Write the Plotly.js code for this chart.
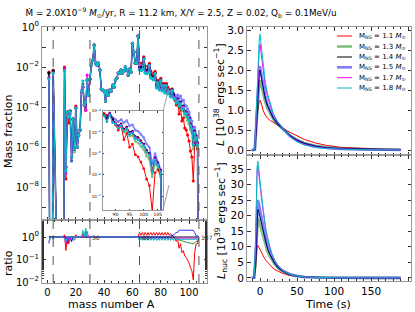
<!DOCTYPE html>
<html><head><meta charset="utf-8">
<script src="https://cdn.plot.ly/plotly-3.0.1.min.js"></script>
<style>html,body{margin:0;padding:0;background:#fff}#chart{width:415px;height:312px}</style>
</head><body><div id="chart"></div>
<script>
// ---------- DATA ----------
const massNumber = [1,2,3,4,5,6,7,8,9,10,11,12,13,14,15,16,17,18,19,20,21,22,23,24,25,26,27,28,29,30,
31,32,33,34,35,36,37,38,39,40,41,42,43,44,45,46,47,48,49,50,51,52,53,54,55,56,57,58,59,60,
61,62,63,64,65,66,67,68,69,70,71,72,73,74,75,76,77,78,79,80,81,82,83,84,85,86,87,88,89,90,
91,92,93,94,95,96,97,98,99,100,101,102,103,104,105,106,107];

// log10(mass fraction); -20 = no abundance
const logX_M11 = [-2.25,-20,-20,-2.15,-20,-20,-20,-20,-20,-20,-20,-2.0,-7.6,-4.25,-4.8,-4.2,-6.5,-4.6,-6.1,-3.95,-6.0,-5.4,-5.15,-3.2,-2.85,-3.9,-4.15,-2.65,-3.4,-2.6,
-1.9,-1.65,-0.9,-1.8,-1.9,-1.8,-2.15,-3.1,-3.15,-3.2,-3.7,-3.2,-3.4,-3.15,-3.2,-2.9,-3.0,-2.65,-2.55,-2.3,
-2.3,-2.15,-2.3,-2.2,-2.0,-2.15,-2.4,-2.1,-2.25,-0.82,-1.25,-1.8,-1.8,-0.45,-1.8,-2.07,-1.8,-1.49,-1.95,-2.22,
-1.95,-1.82,-2.2,-2.47,-2.3,-2.22,-2.7,-2.67,-2.8,-2.57,-2.85,-2.82,-2.95,-2.82,-3.0,-3.12,-3.2,-3.1,-3.35,-3.65,
-3.9,-3.7,-4.35,-4.05,-4.7,-4.55,-5.05,-5.15,-5.4,-5.7,-6.2,-6.5,-7.7,-5.9,-5.75,-6.1,-20];
const logX_M13 = [-2.3,-20,-20,-2.2,-20,-20,-20,-20,-20,-20,-20,-2.1,-7.1,-4.25,-4.5,-4.2,-6.7,-4.6,-6.25,-4.05,-6.0,-5.4,-5.15,-3.2,-3.0,-3.75,-4.15,-2.65,-3.4,-2.6,
-1.9,-1.65,-0.9,-1.8,-1.9,-1.8,-2.15,-3.1,-3.15,-3.2,-3.7,-3.2,-3.4,-3.15,-3.2,-2.9,-3.0,-2.65,-2.55,-2.3,
-2.3,-2.15,-2.3,-2.2,-2.0,-2.15,-2.4,-2.1,-2.25,-0.82,-1.25,-1.8,-1.8,-0.45,-2.0,-2.15,-2.0,-1.57,-2.15,-2.3,
-2.15,-1.9,-2.4,-2.55,-2.5,-2.3,-2.9,-2.75,-3.0,-2.65,-3.05,-2.9,-3.15,-2.9,-3.2,-3.2,-3.35,-3.15,-3.43,-3.6,
-3.75,-3.68,-3.98,-3.9,-4.18,-4.15,-4.42,-4.5,-4.67,-4.82,-5.12,-5.28,-6.1,-5.45,-5.65,-6.0,-20];
const logX_M14 = [-2.3,-20,-20,-2.2,-20,-20,-20,-20,-20,-20,-20,-2.1,-7.0,-4.25,-4.5,-4.2,-6.5,-4.6,-6.1,-4.05,-6.0,-5.4,-5.15,-3.2,-3.0,-3.9,-4.15,-2.65,-3.4,-2.6,
-1.9,-1.65,-0.9,-1.8,-1.9,-1.8,-2.15,-3.1,-3.15,-3.2,-3.7,-3.2,-3.4,-3.15,-3.2,-2.9,-3.0,-2.65,-2.55,-2.3,
-2.3,-2.15,-2.3,-2.2,-2.0,-2.15,-2.4,-2.1,-2.25,-0.82,-1.25,-1.8,-1.8,-0.45,-2.0,-2.15,-2.0,-1.57,-2.15,-2.3,
-2.15,-1.9,-2.4,-2.55,-2.5,-2.3,-2.9,-2.75,-3.0,-2.65,-3.05,-2.9,-3.15,-2.9,-3.2,-3.2,-3.35,-3.15,-3.4,-3.55,
-3.7,-3.6,-3.85,-3.75,-4.0,-3.95,-4.2,-4.25,-4.4,-4.55,-4.85,-5.0,-5.8,-5.2,-5.45,-5.8,-20];
const logX_M15 = [-2.5,-20,-20,-2.25,-20,-20,-20,-20,-20,-20,-20,-2.1,-7.0,-4.55,-4.5,-4.2,-6.7,-4.6,-6.1,-4.05,-6.0,-5.4,-5.15,-3.2,-3.0,-3.9,-3.9,-2.65,-3.4,-2.6,
-1.9,-1.65,-0.9,-1.8,-1.9,-1.8,-2.15,-3.1,-3.15,-3.2,-3.7,-3.2,-3.4,-3.15,-3.2,-2.9,-3.0,-2.65,-2.55,-2.3,
-2.3,-2.15,-2.3,-2.2,-2.0,-2.15,-2.4,-2.1,-2.25,-0.82,-1.25,-1.8,-1.8,-0.45,-2.0,-2.15,-2.0,-1.57,-2.15,-2.3,
-2.15,-1.9,-2.4,-2.55,-2.5,-2.3,-2.9,-2.75,-3.0,-2.65,-3.05,-2.9,-3.15,-2.9,-3.2,-3.2,-3.3,-3.1,-3.3,-3.4,
-3.5,-3.4,-3.55,-3.45,-3.7,-3.65,-3.9,-3.95,-4.1,-4.25,-4.55,-4.7,-5.5,-5.0,-5.4,-5.75,-20];
const logX_M17 = [-2.55,-20,-20,-2.3,-20,-20,-20,-20,-20,-20,-20,-2.1,-7.3,-4.25,-4.5,-4.35,-6.5,-4.6,-6.1,-4.05,-6.0,-5.4,-5.15,-3.2,-3.0,-3.9,-4.15,-2.4,-3.4,-2.6,
-1.9,-1.65,-0.9,-1.8,-1.9,-1.8,-2.15,-3.1,-3.15,-3.2,-3.7,-3.2,-3.4,-3.15,-3.2,-2.9,-3.0,-2.65,-2.55,-2.3,
-2.3,-2.15,-2.3,-2.2,-2.0,-2.15,-2.4,-2.1,-2.25,-0.82,-1.25,-1.8,-1.8,-0.45,-2.12,-2.17,-2.12,-1.59,-2.27,-2.32,
-2.27,-1.92,-2.52,-2.57,-2.62,-2.32,-3.02,-2.77,-3.12,-2.67,-3.17,-2.92,-3.27,-2.92,-3.32,-3.22,-3.47,-3.17,-3.52,-3.57,
-3.75,-3.65,-3.9,-3.8,-4.05,-4.0,-4.25,-4.3,-4.45,-4.6,-4.9,-5.05,-5.85,-5.25,-5.5,-5.85,-20];
const logX_M18 = [-2.6,-20,-20,-2.3,-20,-20,-20,-20,-20,-20,-20,-2.2,-7.2,-4.25,-4.5,-4.2,-6.5,-4.6,-6.1,-4.05,-6.0,-5.4,-5.15,-3.2,-2.7,-3.9,-3.75,-2.65,-3.4,-2.6,
-1.9,-1.65,-0.9,-1.8,-1.9,-1.8,-2.15,-3.1,-3.15,-3.2,-3.7,-3.2,-3.4,-3.15,-3.2,-2.9,-3.0,-2.65,-2.55,-2.3,
-2.3,-2.15,-2.3,-2.2,-2.0,-2.15,-2.4,-2.1,-2.25,-0.82,-1.25,-1.8,-1.8,-0.45,-2.15,-2.18,-2.15,-1.6,-2.3,-2.33,
-2.3,-1.93,-2.55,-2.58,-2.65,-2.33,-3.05,-2.78,-3.15,-2.68,-3.2,-2.93,-3.3,-2.93,-3.35,-3.23,-3.5,-3.18,-3.55,-3.6,
-3.8,-3.7,-3.95,-3.85,-4.1,-4.05,-4.3,-4.35,-4.5,-4.65,-4.95,-5.1,-5.9,-5.3,-5.55,-5.9,-20];

const timeL = [-11,-7,-5,-3,-1,0,2,4,7,10,14,18,23,30,40,50,60,75,90,110,130,150,170,190];
const L_M11 = [0,0.02,0.5,1.0,1.22,1.25,1.15,1.0,0.88,0.8,0.74,0.69,0.64,0.56,0.45,0.35,0.27,0.18,0.12,0.07,0.05,0.035,0.025,0.02];
const L_M13 = [0,0.02,0.6,1.3,1.7,1.75,1.6,1.4,1.2,1.05,0.9,0.77,0.66,0.55,0.38,0.26,0.18,0.11,0.07,0.04,0.025,0.018,0.014,0.012];
const L_M14 = [0,0.02,0.7,1.5,1.95,2.0,1.8,1.55,1.3,1.12,0.95,0.8,0.68,0.55,0.37,0.25,0.17,0.1,0.06,0.035,0.022,0.016,0.012,0.01];
const L_M15 = [0,0.02,0.7,1.55,2.05,2.1,1.88,1.62,1.36,1.16,0.97,0.82,0.69,0.55,0.36,0.24,0.16,0.09,0.055,0.032,0.02,0.014,0.011,0.009];
const L_M17 = [0,0.03,0.9,1.9,2.55,2.65,2.35,2.0,1.62,1.35,1.1,0.9,0.73,0.56,0.35,0.22,0.14,0.08,0.045,0.025,0.016,0.012,0.01,0.008];
const L_M18 = [0,0.03,1.0,2.1,2.8,2.9,2.55,2.15,1.72,1.42,1.14,0.92,0.74,0.56,0.34,0.21,0.13,0.07,0.04,0.022,0.014,0.01,0.008,0.007];

const timeNuc = [-11,-8,-6,-5,-4,-3,-2,0,2,4,6,8,10,13,16,20,25,30,40,50,60,75,100,130,160,190];
const Lnuc_M11 = [0,0.1,3,7,10.3,10.5,10,9,8,7.1,6.3,5.6,5,4.2,3.5,2.7,2.0,1.5,0.8,0.45,0.25,0.11,0.04,0.02,0.01,0.01];
const Lnuc_M13 = [0,0.1,5,12,18,19,18.7,17,15,13,11.3,9.8,8.5,7,5.7,4.3,3.0,2.2,1.1,0.56,0.29,0.12,0.04,0.01,0.01,0.01];
const Lnuc_M14 = [0,0.1,6,14,21,22,21.5,19.5,17,14.8,12.8,11,9.5,7.7,6.2,4.6,3.2,2.3,1.15,0.58,0.3,0.12,0.04,0.01,0.01,0.01];
const Lnuc_M15 = [0,0.1,7,16,24,25,24.5,22,19,16.5,14.2,12.2,10.5,8.4,6.7,4.9,3.4,2.4,1.2,0.6,0.3,0.12,0.04,0.01,0.01,0.01];
const Lnuc_M17 = [0,0.2,10,24,34,36,34.5,30,25.5,21.5,18,15.2,12.8,9.9,7.7,5.5,3.7,2.5,1.2,0.6,0.3,0.12,0.04,0.01,0.01,0.01];
const Lnuc_M18 = [0,0.2,11,25,35.5,37.5,36,31,26,22,18.5,15.5,13,10,7.8,5.6,3.7,2.5,1.2,0.6,0.3,0.12,0.04,0.01,0.01,0.01];

const massLabels = ['1.1','1.3','1.4','1.5','1.7','1.8'];
const boundaryA = [4, 30, 65, 107];
const boundaryLabels = ['', '30', '65', '107'];

// ---------- STYLE ----------
const seriesStyle = [
  {color:'#ff0000', width:1,   opacity:1},
  {color:'#008000', width:2.6, opacity:0.5},
  {color:'#000000', width:1,   opacity:1},
  {color:'#0000ff', width:2.6, opacity:0.5},
  {color:'#ff00ff', width:1,   opacity:1},
  {color:'#00bfbf', width:1,   opacity:1}
];
const logSets = [logX_M11, logX_M13, logX_M14, logX_M15, logX_M17, logX_M18];
const lSets = [L_M11, L_M13, L_M14, L_M15, L_M17, L_M18];
const nucSets = [Lnuc_M11, Lnuc_M13, Lnuc_M14, Lnuc_M15, Lnuc_M17, Lnuc_M18];
const refIndex = 2; // 1.4 Msun reference for ratio

const W = 415, H = 312;
const px = v => v / W, py = v => 1 - v / H;
const FONT = 'DejaVu Sans';

const traces = [];
logSets.forEach((lg, i) => {
  const s = seriesStyle[i];
  const y = lg.map(v => Math.pow(10, v));
  const common = {x: massNumber, y: y, mode: 'lines+markers', showlegend: false,
    line: {color: s.color, width: Math.min(s.width, 1.6)}, opacity: s.opacity,
    marker: {color: s.color, size: 3.2}, hoverinfo: 'skip'};
  traces.push(Object.assign({}, common, {xaxis: 'x', yaxis: 'y'}));
  traces.push(Object.assign({}, common, {xaxis: 'x3', yaxis: 'y3', marker: {color: s.color, size: 2.6}}));
  const ratio = lg.map((v, k) => Math.pow(10, v - logSets[refIndex][k]));
  traces.push({x: massNumber, y: ratio, mode: 'lines', xaxis: 'x2', yaxis: 'y2', showlegend: false,
    line: {color: s.color, width: 1}, opacity: s.opacity === 1 ? 1 : 0.8, hoverinfo: 'skip'});
  traces.push({x: timeL, y: lSets[i], mode: 'lines', xaxis: 'x4', yaxis: 'y4', showlegend: false,
    line: {color: s.color, width: s.width}, opacity: s.opacity, hoverinfo: 'skip'});
  traces.push({x: timeNuc, y: nucSets[i], mode: 'lines', xaxis: 'x5', yaxis: 'y5', showlegend: false,
    line: {color: s.color, width: s.width}, opacity: s.opacity, hoverinfo: 'skip'});
});

const baseAxis = {showline: true, linecolor: '#999', linewidth: 1, mirror: 'allticks', ticks: 'inside',
  ticklen: 3.5, tickcolor: '#333', showgrid: false, zeroline: false,
  tickfont: {family: FONT, size: 10, color: '#000'}};
const ax = o => Object.assign({}, baseAxis, o);
const sup = n => '10<sup>' + (n < 0 ? '\u2212' + (-n) : n) + '</sup>';

const mainX = [px(42), px(207)];
const rightX = [px(247), px(411)];
const xRangeA = [-3.9, 112.7];

const layout = {
  width: W, height: H, margin: {l: 0, r: 0, t: 0, b: 0},
  paper_bgcolor: '#fff', plot_bgcolor: '#fff', showlegend: false,
  font: {family: FONT, color: '#000'},
  title: {text: '\u1E40 = 2.0X10<sup>\u22129</sup> <i>M</i><sub>\u2299</sub>/yr, R = 11.2 km, X/Y = 2.5, Z = 0.02, Q<sub>b</sub> = 0.1MeV/u',
    x: px(181), xanchor: 'center', y: py(13), yanchor: 'middle', font: {family: FONT, size: 8.8}},
  xaxis: ax({domain: mainX, anchor: 'y', range: xRangeA, dtick: 20, showticklabels: false,
    minor: {ticks: 'inside', ticklen: 2, dtick: 5, tickcolor: '#333'}}),
  yaxis: ax({domain: [py(220), py(27)], anchor: 'x', type: 'log', range: [-9.65, 0],
    tickvals: [1,1e-1,1e-2,1e-3,1e-4,1e-5,1e-6,1e-7,1e-8,1e-9],
    ticktext: [sup(0),' ',sup(-2),' ',sup(-4),' ',sup(-6),' ',sup(-8),' ']}),
  xaxis2: ax({domain: mainX, anchor: 'y2', range: xRangeA, dtick: 20, tick0: 0,
    minor: {ticks: 'inside', ticklen: 2, dtick: 5, tickcolor: '#333'}}),
  yaxis2: ax({domain: [py(283), py(220)], anchor: 'x2', type: 'log', range: [-2.04, 0.755],
    tickvals: [1, 0.1, 0.01], ticktext: [sup(0), sup(-1), sup(-2)],
    minor: {ticks: 'inside', ticklen: 2, tickcolor: '#333'}}),
  xaxis3: ax({domain: [px(102.7), px(163)], anchor: 'y3', range: [85.5, 106.8],
    tickvals: [85, 90, 95, 100, 105], ticklen: 1.5, tickfont: {family: FONT, size: 4.5}}),
  yaxis3: ax({domain: [py(210), py(111)], anchor: 'x3', type: 'log', range: [-7.65, -3],
    tickvals: [1e-3,1e-4,1e-5,1e-6,1e-7], ticktext: [sup(-3),sup(-4),sup(-5),sup(-6),sup(-7)],
    ticklen: 1.5, tickfont: {family: FONT, size: 4}}),
  xaxis4: ax({domain: rightX, anchor: 'y4', range: [-17.6, 204], dtick: 50, showticklabels: false,
    minor: {ticks: 'inside', ticklen: 2, dtick: 10, tickcolor: '#333'}}),
  yaxis4: ax({domain: [py(155), py(27)], anchor: 'x4', range: [-0.12, 3.08], dtick: 0.5, tickformat: '.1f',
    tickfont: {family: FONT, size: 10.5, color: '#000'}}),
  xaxis5: ax({domain: rightX, anchor: 'y5', range: [-17.6, 204], dtick: 50, tick0: 0,
    tickfont: {family: FONT, size: 10.5, color: '#000'},
    minor: {ticks: 'inside', ticklen: 2, dtick: 10, tickcolor: '#333'}}),
  yaxis5: ax({domain: [py(281), py(155)], anchor: 'x5', range: [-1, 39.5], dtick: 5,
    tickfont: {family: FONT, size: 10.5, color: '#000'}}),
  shapes: [], annotations: []
};

// boundary dashed lines (split at inset for A=65)
boundaryA.forEach(a => {
  const dash = {type: 'line', xref: 'x', yref: 'paper', x0: a, x1: a,
    line: {color: '#555', width: 1, dash: 'dash'}, layer: 'above'};
  if (a === 65) {
    layout.shapes.push(Object.assign({}, dash, {y0: py(111), y1: py(27)}));
    layout.shapes.push(Object.assign({}, dash, {y0: py(283), y1: py(210)}));
  } else {
    layout.shapes.push(Object.assign({}, dash, {y0: py(283), y1: py(27)}));
  }
});
boundaryA.forEach((a, i) => {
  if (!boundaryLabels[i]) return;
  layout.annotations.push({xref: 'x2', yref: 'y2', x: a, y: 0, text: boundaryLabels[i], showarrow: false,
    xanchor: 'left', yanchor: 'middle', font: {family: FONT, size: 6, color: '#333'}});
});

// zoom box and connectors
layout.shapes.push({type: 'rect', xref: 'x', yref: 'y', x0: 85.9, x1: 106.4, y0: -7.9, y1: -3.05,
  line: {color: '#444', width: 1}});
layout.shapes.push({type: 'line', xref: 'paper', yref: 'paper', x0: px(163), y0: py(111), x1: px(169), y1: py(88),
  line: {color: '#888', width: 0.8}});
layout.shapes.push({type: 'line', xref: 'paper', yref: 'paper', x0: px(163), y0: py(210), x1: px(169), y1: py(185),
  line: {color: '#888', width: 0.8}});

// legend drawn manually
const legRows = [36, 46.5, 57, 67.3, 77.7, 88];
massLabels.forEach((m, i) => {
  const s = seriesStyle[i];
  layout.shapes.push({type: 'line', xref: 'paper', yref: 'paper', x0: px(337), x1: px(352), y0: py(legRows[i]), y1: py(legRows[i]),
    line: {color: s.color, width: s.width}, opacity: s.opacity});
  layout.annotations.push({xref: 'paper', yref: 'paper', x: px(357), y: py(legRows[i]), xanchor: 'left', yanchor: 'middle',
    showarrow: false, text: 'M<sub>NS</sub> = ' + m + ' <i>M</i><sub>\u2299</sub>', font: {family: FONT, size: 7, color: '#000'}});
});

// axis titles
const t = (x, y, text, angle, size) => layout.annotations.push({xref: 'paper', yref: 'paper', x: px(x), y: py(y),
  xanchor: 'center', yanchor: 'middle', text: text, textangle: angle, showarrow: false, font: {family: FONT, size: size, color: '#000'}});
t(8, 132, 'Mass fraction', -90, 11);
t(8, 263, 'ratio', -90, 11);
t(111, 304, 'mass number A', 0, 11);
t(219, 95, '<i>L</i> [10<sup>38</sup> ergs sec<sup>\u22121</sup>]', -90, 11);
t(221, 221, '<i>L</i><sub>nuc</sub> [10<sup>39</sup> ergs sec<sup>\u22121</sup>]', -90, 11);
t(328, 304, 'Time (s)', 0, 11);

Plotly.newPlot('chart', traces, layout, {staticPlot: true});
</script></body></html>
